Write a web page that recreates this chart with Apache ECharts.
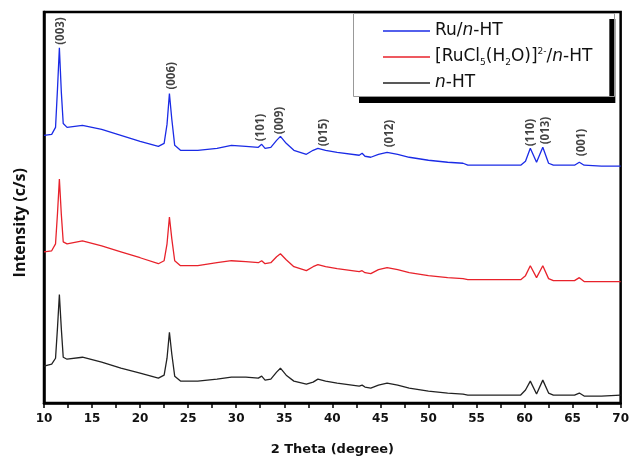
<!DOCTYPE html>
<html>
<head>
<meta charset="utf-8">
<script src="https://cdn.jsdelivr.net/npm/echarts@6/dist/echarts.min.js"></script>
<style>
  html, body { margin: 0; padding: 0; background: #fff; }
  #chart { width: 632px; height: 461px; }
</style>
</head>
<body>
<div id="chart"></div>
<script>
// 2 theta (degree), shared by the three patterns
var twoTheta = [10, 10.8, 11.2, 11.4, 11.6, 11.8, 12.0, 12.4, 14, 16,
  18, 20, 21.9, 22.5, 22.8, 23.05, 23.3, 23.6, 24.2, 26,
  28, 29.5, 31, 32.3, 32.65, 33.0, 33.6, 34.2, 34.6, 35.2,
  36, 37.3, 38.0, 38.5, 39.3, 40.5, 42.8, 43.1, 43.4, 44.0,
  44.8, 45.7, 46.8, 48, 50, 52, 53.6, 53.8, 54.1, 56,
  59.6, 60.1, 60.6, 61.25, 61.9, 62.5, 63, 65.2, 65.7, 66.2, 68, 70];

// intensities (stacked, arbitrary units)
var ruHT = [269, 270, 277, 315, 357, 313, 281, 277, 279, 275,
  269, 263, 258, 261, 280, 311, 285, 259, 254, 254,
  256, 259, 258, 257, 260, 256, 257, 264, 268, 261,
  254, 250, 254, 256, 254, 252, 249, 251, 248, 247,
  250, 252, 250, 247, 244, 242, 241, 242, 239, 239,
  239, 243, 256, 242, 257, 241, 239, 239, 242, 239, 238, 238];

var ruClHT = [152, 153, 160, 190, 225, 190, 162, 160, 163, 158,
  152, 146, 140, 143, 160, 187, 165, 143, 138, 138,
  141, 143, 142, 141, 143, 140, 141, 147, 150, 144,
  137, 133, 137, 139, 137, 135, 132, 133, 131, 130,
  134, 136, 134, 131, 128, 126, 125, 126, 124, 124,
  124, 128, 138, 126, 138, 125, 123, 123, 126, 122, 122, 122];

var nHT = [37, 39, 45, 75, 109, 75, 46, 44, 46, 41,
  35, 30, 25, 28, 45, 71, 49, 27, 22, 22,
  24, 26, 26, 25, 27, 23, 24, 31, 35, 28,
  22, 19, 21, 24, 22, 20, 17, 18, 16, 15,
  18, 20, 18, 15, 12, 10, 9, 10, 8, 8,
  8, 13, 22, 9, 23, 10, 8, 8, 10, 7, 7, 8];

// reflections marked over the top pattern
var peakNames = ['(003)', '(006)', '(101)', '(009)', '(015)', '(012)', '(110)', '(013)', '(001)'];
var peakPos = [11.7, 23.3, 32.6, 34.5, 39.1, 46.0, 60.6, 62.2, 65.9];
var peakLabelAt = [360, 315, 263, 270, 258, 257, 258, 260, 248];

var seriesNames = ['Ru/n-HT', '[RuCl5(H2O)]2-/n-HT', 'n-HT'];
var legendText = {
  'Ru/n-HT': 'Ru/{i|n}-HT',
  '[RuCl5(H2O)]2-/n-HT': '[RuCl{sub|5}(H{sub|2}O)]{sup|2-}/{i|n}-HT',
  'n-HT': '{i|n}-HT'
};

function pairs(ys) {
  return twoTheta.map(function (x, i) { return [x, ys[i]]; });
}

var chart = echarts.init(document.getElementById('chart'), null, { renderer: 'canvas' });

var lineBase = { showSymbol: false, lineStyle: { width: 1.3 } };

var option = {
  animation: false,
  backgroundColor: '#fff',
  grid: {
    left: 44, right: 8, top: 12, bottom: 56,
    show: true, borderColor: '#000', borderWidth: 2.5
  },
  legend: {
    orient: 'vertical',
    left: 353, top: 13,
    data: seriesNames,
    icon: 'rect',
    itemWidth: 47, itemHeight: 1.5,
    itemGap: 6, itemTextGap: 7,
    padding: [8, 17, 4, 30],
    backgroundColor: '#fff',
    borderWidth: 0,
    shadowColor: '#000', shadowBlur: 0, shadowOffsetX: 6, shadowOffsetY: 6,
    formatter: function (name) { return legendText[name]; },
    textStyle: {
      fontFamily: 'DejaVu Sans', fontSize: 17, color: '#111', lineHeight: 20,
      rich: {
        i: { fontFamily: 'DejaVu Sans', fontSize: 17, fontStyle: 'italic', color: '#111', lineHeight: 20 },
        sub: { fontFamily: 'DejaVu Sans', fontSize: 9, color: '#111', verticalAlign: 'bottom', lineHeight: 20 },
        sup: { fontFamily: 'DejaVu Sans', fontSize: 9, color: '#111', verticalAlign: 'top', lineHeight: 20 }
      }
    }
  },
  xAxis: {
    type: 'value',
    min: 10, max: 70, interval: 5,
    name: '2 Theta (degree)',
    nameLocation: 'middle', nameGap: 40,
    nameTextStyle: { fontFamily: 'DejaVu Sans', fontWeight: 'bold', fontSize: 13, color: '#111' },
    axisLine: { show: true, lineStyle: { color: '#000', width: 2.5 } },
    axisTick: { show: true, length: 5, lineStyle: { color: '#000', width: 1.5 } },
    minorTick: { show: true, splitNumber: 2, length: 5, lineStyle: { color: '#000', width: 1.5 } },
    axisLabel: { margin: 10, fontFamily: 'DejaVu Sans', fontWeight: 'bold', fontSize: 12, color: '#111' },
    splitLine: { show: false }
  },
  yAxis: {
    type: 'value',
    min: 0, max: 393,
    axisLine: { show: true, lineStyle: { color: '#000', width: 2.5 } },
    axisTick: { show: false },
    axisLabel: { show: false },
    splitLine: { show: false }
  },
  graphic: [
    {
      type: 'text',
      left: 12, top: 168,
      rotation: Math.PI / 2,
      style: {
        text: 'Intensity (c/s)',
        fontFamily: 'Open Sans', fontWeight: 'bold', fontSize: 16, fill: '#111'
      }
    },
    {
      // thin grey edge of the legend box
      type: 'rect',
      z: 10,
      shape: { x: 353.5, y: 13.5, width: 261, height: 83 },
      style: { fill: null, stroke: '#999', lineWidth: 1 },
      silent: true
    }
  ],
  series: [
    Object.assign({ name: seriesNames[0], type: 'line', data: pairs(ruHT), color: '#1a2be6' }, lineBase),
    Object.assign({ name: seriesNames[1], type: 'line', data: pairs(ruClHT), color: '#e8222b' }, lineBase),
    Object.assign({ name: seriesNames[2], type: 'line', data: pairs(nHT), color: '#222' }, lineBase),
    {
      type: 'scatter',
      symbolSize: 0,
      silent: true,
      data: peakPos.map(function (x, i) { return [x, peakLabelAt[i], peakNames[i]]; }),
      label: {
        show: true,
        position: [0, 0],
        rotate: 90,
        align: 'left',
        verticalAlign: 'middle',
        formatter: function (p) { return p.data[2]; },
        fontFamily: 'Noto Sans', fontWeight: 'bold', fontSize: 11.5, color: '#111'
      }
    }
  ]
};

chart.setOption(option);
</script>
</body>
</html>
